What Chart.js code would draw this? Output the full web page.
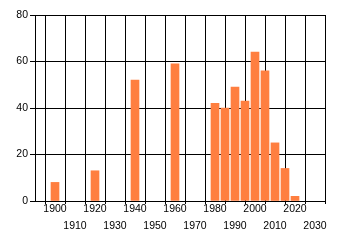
<!DOCTYPE html>
<html>
<head>
<meta charset="utf-8">
<script src="https://cdn.jsdelivr.net/npm/chart.js@4/dist/chart.umd.min.js"></script>
<style>
  html, body { margin: 0; padding: 0; background: #fff; }
  #chart { display: block; }
</style>
</head>
<body>
<canvas id="chart" width="340" height="245"></canvas>
<script>
const years = [1900, 1920, 1940, 1960, 1980, 1985, 1990, 1995, 2000, 2005, 2010, 2015, 2020];
const counts = [8, 13, 52, 59, 42, 40, 49, 43, 64, 56, 25, 14, 2];
const xTicks = [1900, 1910, 1920, 1930, 1940, 1950, 1960, 1970, 1980, 1990, 2000, 2010, 2020, 2030];
const yTicks = [0, 20, 40, 60, 80];

Chart.defaults.font.family = '"Liberation Sans", Arial, sans-serif';
Chart.defaults.font.size = 10.5;
Chart.defaults.color = '#000';

new Chart(document.getElementById('chart'), {
  type: 'bar',
  data: {
    datasets: [{
      data: years.map((y, i) => ({ x: y, y: counts[i] })),
      backgroundColor: '#ff7f40',
      borderWidth: 0,
      barThickness: 8
    }]
  },
  options: {
    responsive: false,
    animation: false,
    layout: { padding: { top: 15, right: 15, left: 0, bottom: 0 } },
    plugins: { legend: { display: false }, tooltip: { enabled: false } },
    scales: {
      x: {
        type: 'linear',
        min: 1890,
        max: 2035,
        offset: false,
        afterBuildTicks: (scale) => { scale.ticks = xTicks.map((v) => ({ value: v })); },
        afterFit: (scale) => { scale.height = 44; },
        grid: { color: '#000', lineWidth: 1, tickLength: 3 },
        border: { color: '#000', width: 1 },
        ticks: {
          autoSkip: false,
          maxRotation: 0,
          padding: -3,
          font: { lineHeight: 17 / 10.5 },
          callback: (value, index) => index % 2 === 0 ? [String(value), ''] : ['', String(value)]
        }
      },
      y: {
        min: 0,
        max: 80,
        afterBuildTicks: (scale) => { scale.ticks = yTicks.map((v) => ({ value: v })); },
        afterFit: (scale) => { scale.width = 35; },
        grid: { color: '#000', lineWidth: 1, tickLength: 5 },
        border: { color: '#000', width: 1 },
        ticks: { padding: 2 }
      }
    }
  }
});
</script>
</body>
</html>
